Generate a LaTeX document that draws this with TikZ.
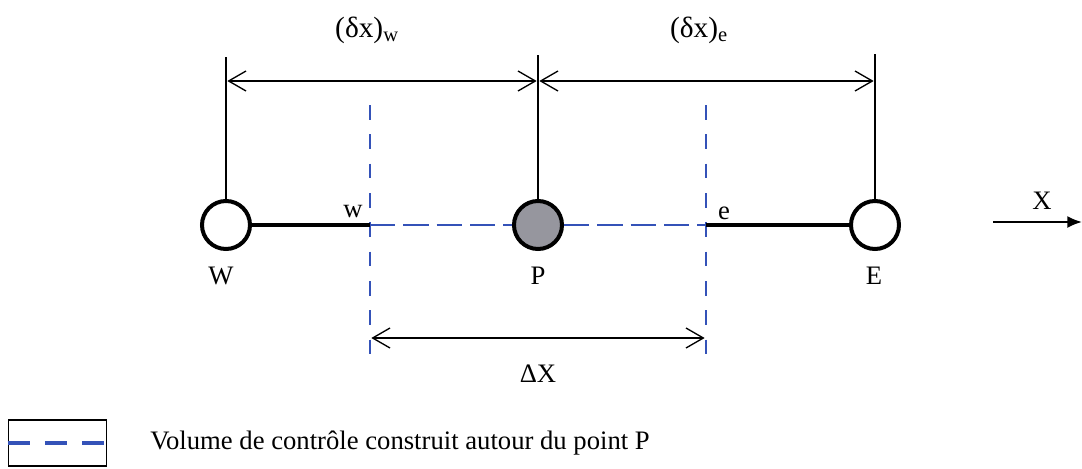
\documentclass[tikz,border=0pt]{standalone}
\usepackage{fontspec}
\setmainfont{Liberation Serif}
\usepackage{tikz}
\usetikzlibrary{arrows.meta,positioning,calc}
\definecolor{cvblue}{RGB}{52,82,184}
\definecolor{pgray}{RGB}{150,150,158}

\begin{document}
\begin{tikzpicture}[x=0.75pt,y=-0.75pt,
  font=\fontsize{20}{24}\selectfont,
  gridpt/.style={circle,draw,line width=3pt,minimum size=36pt,inner sep=0pt},
  stem/.style={line width=2.2pt},
  link/.style={line width=2.8pt},
  cvline/.style={cvblue,line width=1.8pt,dash pattern=on 11pt off 11pt},
  cvlink/.style={cvblue,line width=1.8pt,dash pattern=on 19pt off 6pt},
  dim/.style={line width=1pt,
    {Straight Barb[length=13pt,width=15pt]}-{Straight Barb[length=13pt,width=15pt]}}]
  % pixel units: 1 unit = 1px of the 1082x468 frame, y downwards
  \useasboundingbox (0,0) rectangle (1082,468);

  % grid points W, P, E on the line y = 225
  \node[gridpt,fill=white] (W) at (226,225) {};
  \node[gridpt,fill=pgray] (P) at (538,225) {};
  \node[gridpt,fill=white] (E) at (875,225) {};

  % stems up to the top dimension line
  \coordinate (Wtop) at (226,57);
  \coordinate (Ptop) at (538,55);
  \coordinate (Etop) at (875,54);
  \foreach \n in {W,P,E} { \draw[stem] (\n) -- (\n top); }

  % faces w and e of the control volume
  \coordinate (wt) at (370,105); \coordinate (wm) at (370,225); \coordinate (wb) at (370,360);
  \coordinate (et) at (706,105); \coordinate (em) at (706,225); \coordinate (eb) at (706,360);
  \draw[cvline] (wt) -- (wb);
  \draw[cvline] (et) -- (eb);

  % links between the points
  \draw[link] (W) -- (wm);
  \draw[cvlink] (wm) -- (P);
  \draw[cvlink] (P) -- (em);
  \draw[link] (em) -- (E);

  % distances between nodes
  \coordinate (Wd) at (226,81);
  \coordinate (Pd) at (538,81);
  \coordinate (Ed) at (875,81);
  \draw[dim,shorten <=1pt,shorten >=1pt] (Wd) -- (Pd);
  \draw[dim,shorten <=1pt,shorten >=1pt] (Pd) -- (Ed);
  \node[font=\fontsize{22}{26}\selectfont] (dxw) at (367,30) {(δx)\textsubscript{w}};
  \node[font=\fontsize{22}{26}\selectfont] (dxe) at (699,30) {(δx)\textsubscript{e}};

  % width of the control volume
  \coordinate (wd) at (370,338);
  \coordinate (ed) at (706,338);
  \draw[dim,shorten <=1pt,shorten >=1pt] (wd) -- (ed);
  \node (dX) at (538,374) {ΔX};

  % labels
  \node[anchor=base] (wlab) at (353,217) {w};
  \node[anchor=base] (elab) at (724,219) {e};
  \node (Wlab) at (221,276) {W};
  \node (Plab) at (538,276) {P};
  \node (Elab) at (874,276) {E};

  % axis
  \coordinate (xa) at (993,222);
  \coordinate (xb) at (1082,222);
  \draw[line width=1.5pt,-{Latex[length=11pt,width=9pt]}] (xa) -- (xb);
  \node (Xlab) at (1042,201) {X};

  % legend
  \node[draw,line width=0.8pt,minimum width=74pt,minimum height=34.5pt,inner sep=0pt] (key) at (57.5,443) {};
  \draw[cvblue,line width=3pt,dash pattern=on 16.5pt off 11.5pt] (key.west) -- (key.east);
  \node[right=32pt of key,inner sep=0pt] (keytext) {Volume de contrôle construit autour du point P};
\end{tikzpicture}
\end{document}
